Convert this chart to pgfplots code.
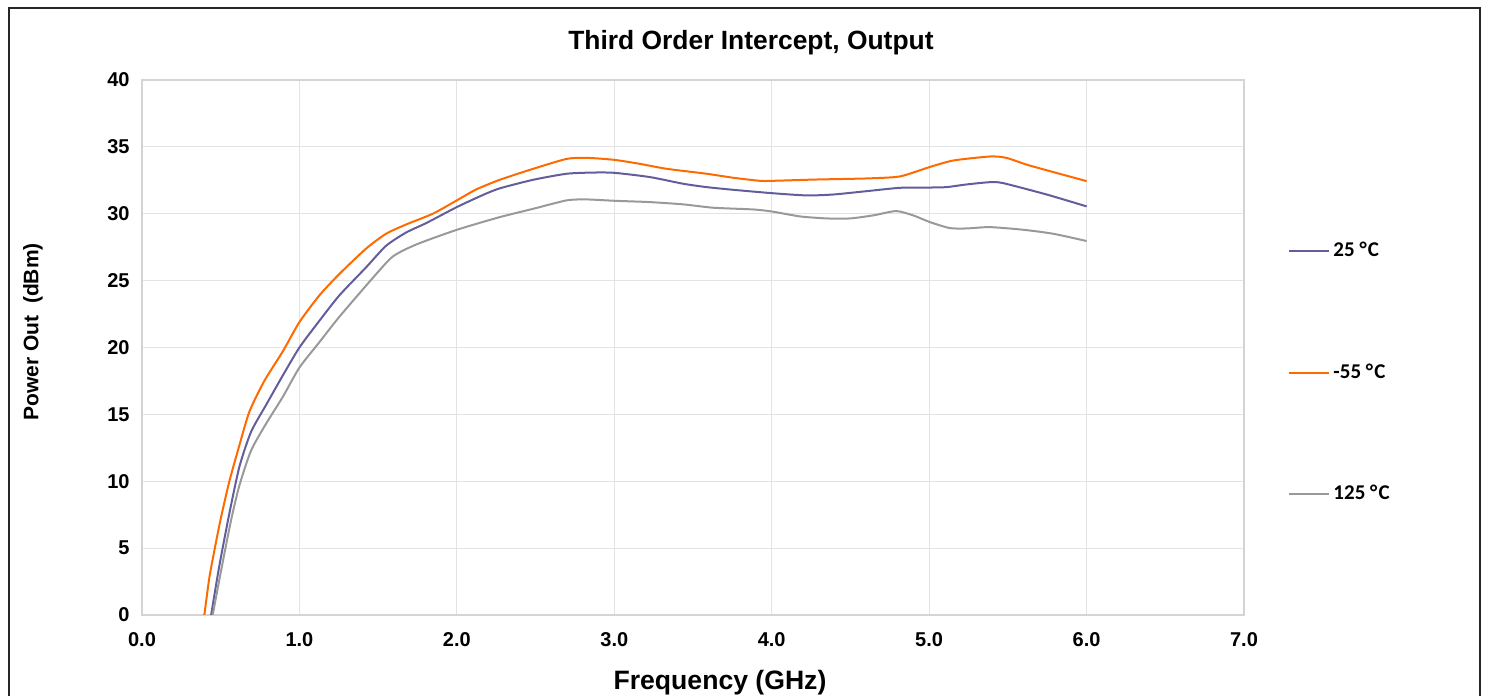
\documentclass[border=0pt]{standalone}
\usepackage{pgfplots}
\pgfplotsset{compat=1.18}
\usepackage{fontspec}
\setmainfont{Liberation Sans}
\newfontfamily\legfont{Carlito}
\definecolor{cPurple}{HTML}{625E9C}
\definecolor{cOrange}{HTML}{FF6A00}
\definecolor{cGray}{HTML}{999999}
\definecolor{cGrid}{HTML}{E3E3E3}
\definecolor{cAxis}{HTML}{D4D4D4}
\begin{document}
\begin{tikzpicture}
\useasboundingbox (-71pt,-40.5pt) rectangle (673.5pt,307.5pt);
\begin{axis}[
  scale only axis, width=551pt, height=267.5pt,
  xmin=0, xmax=7, ymin=0, ymax=40,
  xtick={0,1,...,7}, ytick={0,5,...,40},
  grid=major, grid style={cGrid, line width=0.6pt},
  axis line style={cAxis, line width=0.8pt},
  tick style={draw=none},
  /pgf/number format/assume math mode=true,
  xticklabel={\pgfmathprintnumber[fixed,precision=1,zerofill]{\tick}},
  yticklabel={\pgfmathprintnumber[fixed,precision=0]{\tick}},
  ticklabel style={font=\bfseries\fontsize{10}{12}\selectfont},
  xticklabel style={yshift=-5pt},
  yticklabel style={xshift=-2.7pt},
  title={Third Order Intercept, Output},
  title style={font=\bfseries\fontsize{13.2}{15}\selectfont, at={(axis description cs:0.5526,1.0748)}, anchor=center, yshift=-7.5pt},
  xlabel={Frequency (GHz)},
  xlabel style={font=\bfseries\fontsize{13.3}{15}\selectfont, at={(axis description cs:0.5245,-0.127)}, anchor=center},
  ylabel={Power Out\ \ (dBm)},
  ylabel style={font=\bfseries\fontsize{10.5}{12}\selectfont, at={(axis description cs:-0.0989,0.529)}, anchor=center, rotate=0},
  clip=true,
  legend style={draw=none, fill=none, at={(axis description cs:1.04,0.453)}, anchor=west,
    font=\legfont\bfseries\fontsize{10.5}{12}\selectfont, row sep=49pt, inner sep=0pt,
    nodes={inner sep=1.5pt}},
  legend cell align=left,
  legend image code/.code={\draw[#1] plot coordinates {(0pt,0pt) (20pt,0pt)};},
  every axis plot/.append style={line width=1pt, smooth, tension=0.4},
]
\addplot[cPurple] coordinates {
(0.43,-0.5) (0.439,0) (0.49,3.6) (0.555,7.6) (0.619,11.1) (0.693,13.7) (0.788,15.7) (0.894,17.9)
(1.0,20.0) (1.127,22.0) (1.254,23.9) (1.424,26.0) (1.55,27.6) (1.678,28.6) (1.805,29.3)
(2.0,30.5) (2.165,31.4) (2.273,31.9) (2.485,32.54) (2.697,32.99) (2.866,33.08) (3.0,33.06)
(3.227,32.74) (3.439,32.24) (3.587,31.99) (3.756,31.79) (4.0,31.54) (4.222,31.37) (4.392,31.44)
(4.604,31.69) (4.816,31.94) (5.0,31.96) (5.11,31.99) (5.237,32.19) (5.386,32.36) (5.47,32.29)
(5.746,31.44) (6.0,30.55)
};
\addlegendentry{25 °\kern0.6pt C}
\addplot[cOrange] coordinates {
(0.39,-0.5) (0.396,0) (0.428,2.8) (0.466,5.2) (0.502,7.3) (0.555,10.0) (0.619,12.7) (0.682,15.2)
(0.777,17.5) (0.894,19.7) (1.0,21.9) (1.127,23.9) (1.254,25.5) (1.424,27.4) (1.55,28.5)
(1.678,29.2) (1.847,30.0) (2.0,31.0) (2.12,31.8) (2.273,32.54) (2.485,33.36) (2.697,34.1)
(2.824,34.18) (3.0,34.03) (3.163,33.73) (3.333,33.36) (3.587,32.99) (3.756,32.69) (3.926,32.46)
(4.0,32.46) (4.286,32.56) (4.604,32.64) (4.814,32.79) (5.0,33.48) (5.153,33.98) (5.386,34.28)
(5.49,34.18) (5.64,33.6) (6.0,32.44)
};
\addlegendentry{-55 °\kern0.6pt C}
\addplot[cGray] coordinates {
(0.44,-0.5) (0.449,0) (0.502,3.3) (0.566,7.1) (0.619,9.7) (0.693,12.3) (0.788,14.3) (0.894,16.3)
(1.0,18.5) (1.127,20.4) (1.254,22.3) (1.466,25.2) (1.593,26.8) (1.742,27.7) (2.0,28.8)
(2.273,29.75) (2.485,30.37) (2.697,31.0) (2.824,31.07) (3.0,30.97) (3.227,30.87) (3.439,30.7)
(3.629,30.45) (3.883,30.32) (4.0,30.17) (4.18,29.8) (4.35,29.65) (4.498,29.65) (4.646,29.88)
(4.79,30.2) (4.898,29.88) (5.004,29.38) (5.13,28.93) (5.237,28.9) (5.386,29.0) (5.6,28.8)
(5.79,28.5) (6.0,27.96)
};
\addlegendentry{125 °\kern0.6pt C}
\end{axis}
\draw[line width=0.8pt, black!85] (-66.5pt,-45pt) -- (-66.5pt,303.5pt) -- (669pt,303.5pt) -- (669pt,-45pt);
\end{tikzpicture}
\end{document}
